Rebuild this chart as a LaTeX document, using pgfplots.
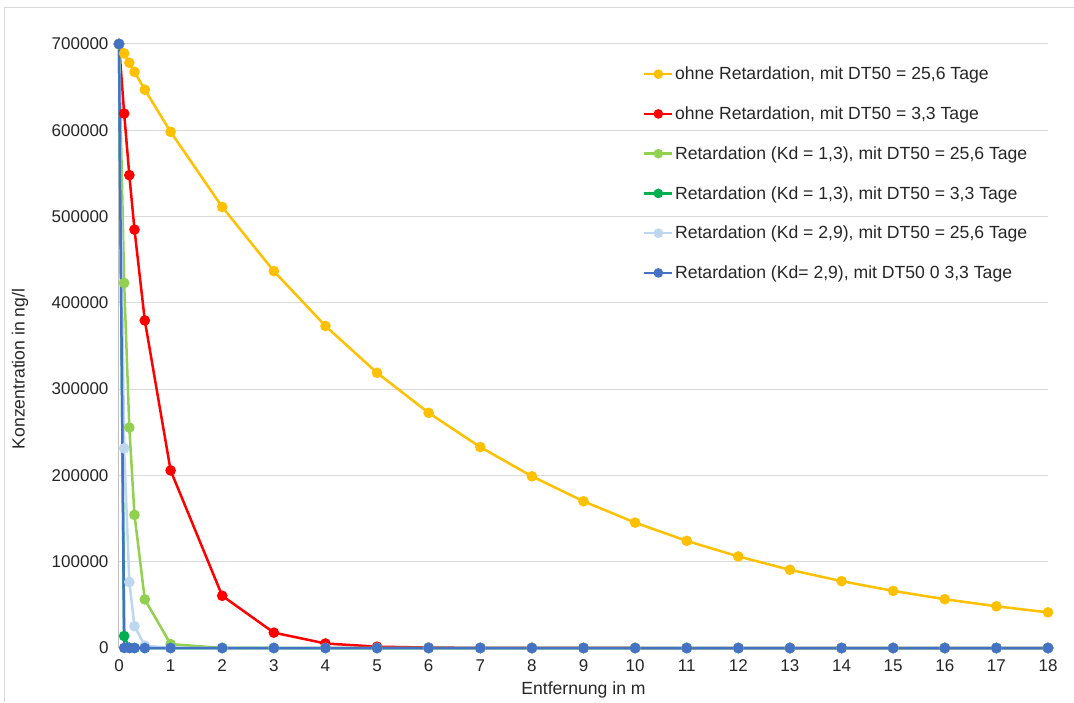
\documentclass[border=0pt]{standalone}
\usepackage{pgfplots}
\pgfplotsset{compat=1.18}
\usepackage{fontspec}
\setmainfont{Liberation Sans}
\definecolor{cYel}{HTML}{FFC000}
\definecolor{cRed}{HTML}{FF0000}
\definecolor{cLGr}{HTML}{92D050}
\definecolor{cGr}{HTML}{00B050}
\definecolor{cLBl}{HTML}{BDD7EE}
\definecolor{cBl}{HTML}{4472C4}
\definecolor{cGrid}{HTML}{D9D9D9}
\definecolor{cAx}{HTML}{BFBFBF}
\definecolor{cTxt}{HTML}{262626}
\begin{document}
\begin{tikzpicture}
\useasboundingbox (-119pt,-54pt) rectangle (955pt,648pt);
\draw[cGrid, line width=1pt] (-114pt,-54pt) -- (-114pt,640pt) -- (955pt,640pt);
\begin{axis}[
  at={(0pt,0pt)}, anchor=south west,
  scale only axis, width=929pt, height=604pt,
  xmin=0, xmax=18, ymin=0, ymax=700000,
  xtick={0,1,...,18},
  ytick={0,100000,...,700000},
  axis x line*=bottom, axis y line*=left,
  axis line style={cAx, line width=1pt, -},
  major tick length=0pt,
  ymajorgrids, grid style={cGrid, line width=1pt},
  xmajorgrids=false,
  scaled y ticks=false,
  /pgf/number format/.cd, fixed, 1000 sep={}, assume math mode=true,
  /pgfplots/.cd,
  tick label style={font=\fontsize{17}{20}\selectfont, text=cTxt},
  yticklabel style={xshift=-7pt},
  xticklabel style={yshift=-8pt},
  xlabel={Entfernung in m},
  ylabel={Konzentration in ng/l},
  label style={font=\fontsize{17.6}{21}\selectfont, text=cTxt},
  xlabel style={at={(axis description cs:0.5,-0.0695)}, anchor=center},
  ylabel style={at={(axis description cs:-0.1066,0.462)}, anchor=center, rotate=0},
  clip=false,
  every axis plot/.append style={line width=2.5pt, mark=*, mark size=4pt},
  legend cell align=left,
  legend style={draw=none, fill=none, at={(axis description cs:0.5607,0.968)}, anchor=north west,
    font=\fontsize{17.6}{21}\selectfont, text=cTxt, row sep=22.5pt,
    nodes={inner sep=1.5pt}},
  legend image code/.code={\draw[mark repeat=2, mark phase=2, #1, mark size=3.5pt] plot coordinates {(0pt,0pt) (14pt,0pt) (28pt,0pt)};},
]
\addplot[cYel, mark options={fill=cYel, draw=cYel}] coordinates {
(0,700000)(0.1,689080)(0.2,678330)(0.3,667750)(0.5,647080)(1,598150)(2,511120)(3,436760)(4,373210)(5,318910)(6,272510)(7,232860)(8,198980)(9,170030)(10,145290)(11,124150)(12,106090)(13,90650)(14,77460)(15,66190)(16,56560)(17,48330)(18,41300)};
\addlegendentry{ohne Retardation, mit DT50 = 25,6 Tage}
\addplot[cRed, mark options={fill=cRed, draw=cRed}] coordinates {
(0,700000)(0.1,619400)(0.2,548000)(0.3,484900)(0.5,379600)(1,205800)(2,60500)(3,17800)(4,5230)(5,1540)(6,452)(7,133)(8,39)(9,11)(10,3)(11,1)(12,0)(13,0)(14,0)(15,0)(16,0)(17,0)(18,0)};
\addlegendentry{ohne Retardation, mit DT50 = 3,3 Tage}
\addplot[cLGr, mark options={fill=cLGr, draw=cLGr}] coordinates {
(0,700000)(0.1,423000)(0.2,255500)(0.3,154300)(0.5,56300)(1,4530)(2,29)(3,0)(4,0)(5,0)(6,0)(7,0)(8,0)(9,0)(10,0)(11,0)(12,0)(13,0)(14,0)(15,0)(16,0)(17,0)(18,0)};
\addlegendentry{Retardation (Kd = 1,3), mit DT50 = 25,6 Tage}
\addplot[cGr, mark options={fill=cGr, draw=cGr}] coordinates {
(0,700000)(0.1,13900)(0.2,280)(0.3,6)(0.5,0)(1,0)(2,0)(3,0)(4,0)(5,0)(6,0)(7,0)(8,0)(9,0)(10,0)(11,0)(12,0)(13,0)(14,0)(15,0)(16,0)(17,0)(18,0)};
\addlegendentry{Retardation (Kd = 1,3), mit DT50 = 3,3 Tage}
\addplot[cLBl, mark options={fill=cLBl, draw=cLBl}] coordinates {
(0,700000)(0.1,231400)(0.2,76500)(0.3,25300)(0.5,2770)(1,11)(2,0)(3,0)(4,0)(5,0)(6,0)(7,0)(8,0)(9,0)(10,0)(11,0)(12,0)(13,0)(14,0)(15,0)(16,0)(17,0)(18,0)};
\addlegendentry{Retardation (Kd = 2,9), mit DT50 = 25,6 Tage}
\addplot[cBl, mark options={fill=cBl, draw=cBl}] coordinates {
(0,700000)(0.1,100)(0.2,0)(0.3,0)(0.5,0)(1,0)(2,0)(3,0)(4,0)(5,0)(6,0)(7,0)(8,0)(9,0)(10,0)(11,0)(12,0)(13,0)(14,0)(15,0)(16,0)(17,0)(18,0)};
\addlegendentry{Retardation (Kd= 2,9), mit DT50 0 3,3 Tage}
\end{axis}
\end{tikzpicture}
\end{document}
